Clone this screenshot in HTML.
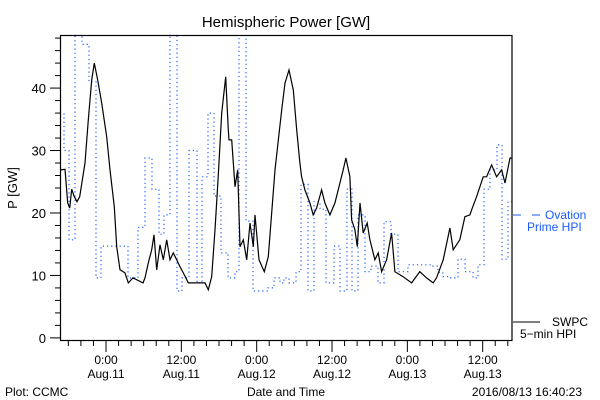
<!DOCTYPE html>
<html><head><meta charset="utf-8">
<style>
html,body{margin:0;padding:0;background:#fff;}
svg{display:block;font-family:"Liberation Sans",sans-serif;}
</style></head>
<body>
<svg id="chart" width="600" height="400" viewBox="0 0 600 400">
<defs><clipPath id="plotclip"><rect x="60" y="35" width="452" height="306"/></clipPath></defs>
<text x="286" y="27" font-size="15" text-anchor="middle">Hemispheric Power [GW]</text>
<text x="0" y="0" font-size="13" text-anchor="middle" transform="translate(17,188) rotate(-90)">P [GW]</text>
<text x="286" y="396" font-size="12" text-anchor="middle">Date and Time</text>
<text x="5" y="396" font-size="12">Plot: CCMC</text>
<text x="582" y="396" font-size="12" text-anchor="end">2016/08/13 16:40:23</text>
<g id="axes"></g>
<g clip-path="url(#plotclip)" id="series"></g>
<rect x="60.5" y="35.5" width="451.5" height="305" fill="none" stroke="#000" stroke-width="1.2"/>
<g>
<line x1="513" y1="215" x2="521" y2="215" stroke="#1a5cff" stroke-width="1"/>
<line x1="532" y1="215" x2="540" y2="215" stroke="#1a5cff" stroke-width="1"/>
<text x="545" y="219" font-size="12" fill="#1a5cff">Ovation</text>
<text x="527" y="231" font-size="12" fill="#1a5cff">Prime HPI</text>
<line x1="513" y1="322" x2="540" y2="322" stroke="#000" stroke-width="1"/>
<text x="552" y="326" font-size="12">SWPC</text>
<text x="520" y="338" font-size="12">5−min HPI</text>
</g>
</svg>
<script>
const swpcTimes=[0.16,0.8,1.23,1.55,1.86,2.28,2.71,3.14,3.98,4.51,5.05,5.46,6.0,6.64,7.44,7.96,8.65,9.03,9.56,10.35,10.88,11.63,13.22,13.54,14.06,14.6,14.97,15.4,15.93,16.45,16.99,17.52,18.05,18.59,19.11,19.64,20.44,23.1,23.62,24.16,24.69,25.2,25.76,26.39,26.81,26.92,27.35,27.88,28.3,28.67,29.2,29.74,30.26,30.79,31.06,31.7,32.54,33.18,34.24,35.31,35.84,36.48,37.16,37.7,38.22,38.49,39.01,39.81,40.34,40.88,41.67,42.2,43.0,43.79,44.32,45.11,45.54,46.18,46.45,46.98,47.35,47.78,48.3,48.94,49.36,50.16,50.69,51.23,52.02,52.82,53.34,54.66,56.0,57.32,58.39,59.44,59.98,61.04,62.1,62.63,63.69,64.49,65.29,65.56,66.36,67.41,67.95,68.75,69.55,70.35,70.88,71.68,72];
const swpcValues=[26.9,27,21.6,20.8,23.8,22.6,21.8,22.6,28,34.9,41.3,44,41.3,37.6,32.2,26.9,21,14.6,10.9,10.4,8.8,9.6,8.8,9.6,12,14.1,16.5,10.9,14.9,12.5,15.7,12.5,13.6,12.5,11.4,10.4,8.8,8.8,7.7,9.8,17.3,25.8,36,41.8,33.3,31.7,31.7,24.2,26.9,14.6,15.7,12.5,18.4,14.6,19.7,12.5,10.6,13,26.9,36.5,40.8,42.9,39.7,33.3,28,25.8,23.7,21.6,19.7,20.8,23.7,21.6,19.7,21.6,23.7,26.9,28.8,25.8,18.9,17.3,14.6,21.6,16.8,18.4,15.7,12.5,13.6,10.6,12.5,16.8,10.6,9.8,8.8,10.6,9.6,8.8,9.6,12.5,17.6,14.1,15.7,19.4,19.7,20.5,22.6,25.8,25.8,27.7,25.8,26.9,24.8,28.8,28.8];
const ovTimes=[0,0.64,1.43,2.39,3.5,4.62,5.73,6.53,10.83,12.42,13.54,14.65,15.77,16.57,17.52,18.63,19.43,20.55,21.82,22.62,23.57,24.53,25.65,26.76,27.88,28.51,29.63,30.74,33.13,34.09,35.04,35.68,36.48,37.59,38.39,39.5,40.46,41.42,42.37,43.64,44.6,45.72,46.51,47.47,48.58,49.54,50.65,51.61,52.72,53.84,55.43,59.25,60.21,61.0,62.12,63.4,64.51,65.79,66.58,67.54,68.5,69.61,70.41,71.36];
const ovValues=[36,30,15.7,50,47,41,9.6,14.7,9.6,17.7,28.8,23.8,16.6,19.7,50,7.5,9.6,30,8.8,25.8,36,22.7,13.6,9.6,10.6,50,18.7,7.5,8,9.6,8.8,9.6,8.8,10.6,24.6,7.5,21.8,20.6,8.8,14.7,7.5,23.8,7.5,19.7,10.6,11.5,8.8,18.6,16.6,10.6,11.7,11.5,10.5,9.8,9.6,12.6,10.6,9.6,11.7,23.8,26.9,30.9,12.6,21.8];
const yTicks=[0,10,20,30,40];
const xTickHours=[7.33,19.33,31.33,43.33,55.33,67.33];
const xTickLabels=[["0:00","Aug.11"],["12:00","Aug.11"],["0:00","Aug.12"],["12:00","Aug.12"],["0:00","Aug.13"],["12:00","Aug.13"]];

const X0=60,X1=512,Y0=341,Y1=35,TMAX=72,VMIN=-0.5,VMAX=48.5;
const xs=t=>X0+(t/TMAX)*(X1-X0);
const ys=v=>Y0-(v-VMIN)/(VMAX-VMIN)*(Y0-Y1);
const NS="http://www.w3.org/2000/svg";
const axes=document.getElementById('axes'),series=document.getElementById('series');
function mk(tag,attrs,parent){const e=document.createElementNS(NS,tag);for(const k in attrs)e.setAttribute(k,attrs[k]);parent.appendChild(e);return e;}

// y ticks
for(let v=0;v<=48;v+=2){
  const major=v%10===0;
  const l=mk('line',{x1:major?50:55,x2:60,y1:ys(v),y2:ys(v),stroke:'#000','stroke-width':1},axes);
  
  
}
yTicks.forEach(v=>{
  const t=mk('text',{x:46,y:ys(v)+5,'font-size':13,'text-anchor':'end'},axes);
  
  
  t.textContent=v;
});
// x ticks
for(let h=xTickHours[0]-6;h<=TMAX;h+=2){
  if(h<0)continue;
  const major=xTickHours.some(m=>Math.abs(m-h)<0.01);
  const l=mk('line',{x1:xs(h),x2:xs(h),y1:341,y2:major?352:346,stroke:'#000','stroke-width':1},axes);
  
  
}
xTickHours.forEach((h,i)=>{
  const t=mk('text',{x:xs(h),y:364,'font-size':12,'text-anchor':'middle'},axes);
  
  
  t.textContent=xTickLabels[i][0];
  const t2=mk('text',{x:xs(h),y:378,'font-size':12,'text-anchor':'middle'},axes);
  
  
  t2.textContent=xTickLabels[i][1];
});
// ovation step series
let d='';
ovTimes.forEach((t,i)=>{
  const tEnd=i+1<ovTimes.length?ovTimes[i+1]:TMAX;
  d+=(i===0?'M':'L')+xs(t).toFixed(1)+','+ys(ovValues[i]).toFixed(1)+'L'+xs(tEnd).toFixed(1)+','+ys(ovValues[i]).toFixed(1);
});
const ov=mk('path',{d:d,fill:'none',stroke:'#1a5cff','stroke-width':1.2,'stroke-dasharray':'1.2 3'},series);


// swpc line
let d2='';
swpcTimes.forEach((t,i)=>{d2+=(i===0?'M':'L')+xs(t).toFixed(1)+','+ys(swpcValues[i]).toFixed(1);});
const sw=mk('path',{d:d2,fill:'none',stroke:'#000','stroke-width':1.2},series);


</script>
</body></html>
